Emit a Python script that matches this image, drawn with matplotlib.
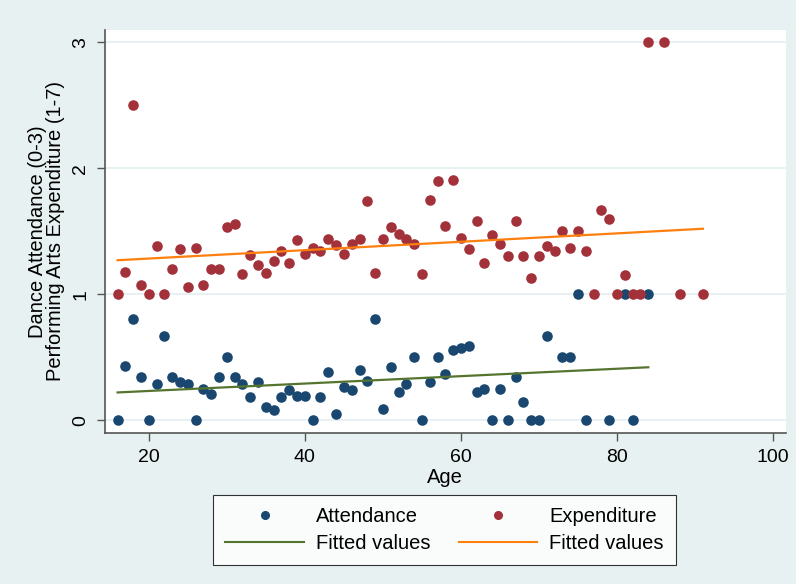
import numpy as np
import matplotlib.pyplot as plt
from matplotlib.lines import Line2D

# average dance attendance by age
att_age = list(range(16, 72)) + [73, 74, 75, 76, 79, 81, 82, 84]
att_val = [0, 0.43, 0.80, 0.34, 0, 0.29, 0.67, 0.34, 0.30, 0.29,
           0, 0.25, 0.21, 0.34, 0.50, 0.34, 0.29, 0.185, 0.30, 0.105,
           0.08, 0.185, 0.24, 0.19, 0.19, 0, 0.185, 0.38, 0.05, 0.26,
           0.24, 0.40, 0.31, 0.80, 0.09, 0.42, 0.22, 0.29, 0.50, 0,
           0.30, 0.50, 0.37, 0.56, 0.575, 0.585, 0.22, 0.25, 0, 0.25,
           0, 0.34, 0.145, 0, 0, 0.67,
           0.5, 0.5, 1, 0, 0, 1, 0, 1]

# average performing arts expenditure by age
exp_age = list(range(16, 85)) + [86, 88, 91]
exp_val = [1.0, 1.18, 2.5, 1.07, 1.0, 1.38, 1.0, 1.20, 1.36, 1.06,
           1.37, 1.07, 1.20, 1.20, 1.53, 1.56, 1.16, 1.31, 1.23, 1.17,
           1.26, 1.34, 1.25, 1.43, 1.32, 1.37, 1.34, 1.44, 1.39, 1.32,
           1.40, 1.44, 1.74, 1.17, 1.44, 1.53, 1.48, 1.44, 1.40, 1.16,
           1.75, 1.90, 1.54, 1.91, 1.45, 1.36, 1.58, 1.25, 1.47, 1.40,
           1.30, 1.585, 1.30, 1.13, 1.30, 1.38, 1.34, 1.50, 1.37, 1.50,
           1.34, 1.0, 1.665, 1.60, 1.0, 1.15, 1.0, 1.0, 3.0,
           3.0, 1.0, 1.0]

# fitted lines (end points)
fit_att_age = [16, 84]
fit_att = [0.22, 0.42]
fit_exp_age = [16, 91]
fit_exp = [1.27, 1.52]

navy = '#1a476f'
maroon = '#a3313a'
green = '#55752f'
orange = '#ff7f0e'
bg = '#e8f1f1'
axcol = '#555555'

plt.rcParams['font.family'] = ['Liberation Sans', 'DejaVu Sans']

fig = plt.figure(figsize=(7.96, 5.84), dpi=100, facecolor=bg)
ax = fig.add_axes([0.132, 0.259, 0.855, 0.69])
ax.set_facecolor('white')

ax.scatter(att_age, att_val, s=58, color=navy, zorder=3, linewidths=0)
ax.scatter(exp_age, exp_val, s=58, color=maroon, zorder=3, linewidths=0)
ax.plot(fit_att_age, fit_att, color=green, lw=1.6, zorder=4)
ax.plot(fit_exp_age, fit_exp, color=orange, lw=1.6, zorder=4)

ax.set_xlim(14.4, 101.6)
ax.set_ylim(-0.1, 3.1)
ax.set_xticks([20, 40, 60, 80, 100])
ax.set_yticks([0, 1, 2, 3])
ax.grid(axis='y', color='#e3eef0', lw=1.2)
ax.set_axisbelow(True)
ax.spines['top'].set_visible(False)
ax.spines['right'].set_visible(False)
for side in ['left', 'bottom']:
    ax.spines[side].set_color(axcol)
    ax.spines[side].set_linewidth(1.2)
ax.tick_params(axis='both', length=6, width=1, color=axcol, labelsize=14, pad=5.5)
for lab in ax.get_yticklabels():
    lab.set_rotation(90)
    lab.set_va('center')

ax.set_xlabel('Age', fontsize=14.5, labelpad=1.5)
ax.set_ylabel('Dance Attendance (0-3)\nPerforming Arts Expenditure (1-7)',
              fontsize=14.5, labelpad=5, linespacing=0.95)

handles = [
    Line2D([], [], ls='none', marker='o', ms=5.5, color=navy),
    Line2D([], [], color=green, lw=1.5),
    Line2D([], [], ls='none', marker='o', ms=5.5, color=maroon),
    Line2D([], [], color=orange, lw=1.5),
]
labels = ['Attendance', 'Fitted values', 'Expenditure', 'Fitted values']
leg = fig.legend(handles, labels, ncol=2, loc='center',
                 bbox_to_anchor=(0.5585, 0.0925), fontsize=14.5,
                 frameon=True, fancybox=False, handlelength=3.9,
                 handletextpad=0.6, columnspacing=1.4, labelspacing=0.4,
                 borderpad=0.6, borderaxespad=0)
leg.get_frame().set_edgecolor('black')
leg.get_frame().set_linewidth(0.8)

fig.savefig('out.png', dpi=100, facecolor=bg)
